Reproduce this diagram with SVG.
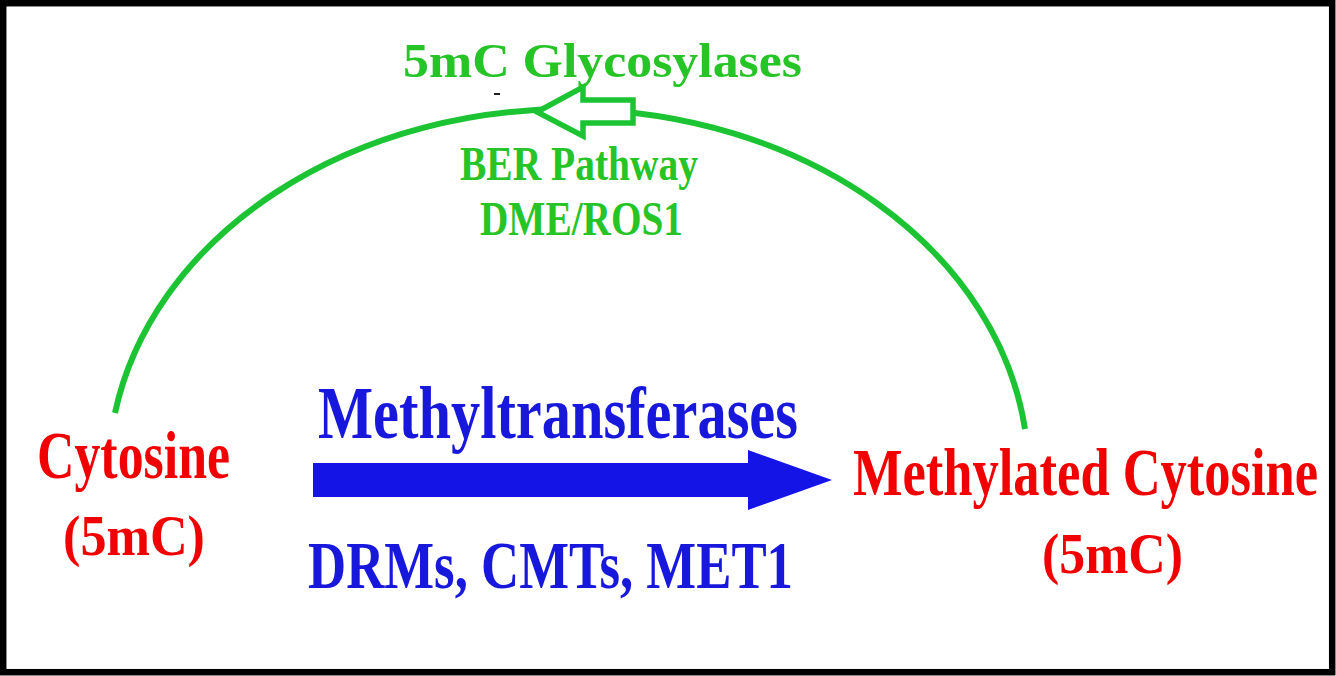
<svg xmlns="http://www.w3.org/2000/svg" width="1336" height="676" viewBox="0 0 1336 676">
<style>
.t{font-family:"Liberation Serif","Times New Roman",serif;font-weight:bold}
.red{fill:#f00000}
.blue{fill:#1818dc}
.green{fill:#26c426}
</style>
<rect x="0" y="0" width="1336" height="676" fill="#ffffff"/>
<rect x="3.2" y="3.2" width="1329" height="669" fill="none" stroke="#000" stroke-width="6.5"/>
<g id="connectors">
  <path id="arc" d="M115,413 A460 365 0 0 1 1025,429" fill="none" stroke="#1cc434" stroke-width="6"/>
  <polygon id="hollow-arrow" points="537,112 583,87 583,100 633,100 633,123 583,123 583,136" fill="#ffffff" stroke="#1cc434" stroke-width="5.5" stroke-linejoin="miter"/>
  <polygon id="blue-arrow" points="313,463 748,463 748,450 832,480 748,510 748,497 313,497" fill="#1414e6"/>
  <rect x="494" y="93" width="6" height="2" fill="#222"/>
</g>
<g id="cytosine">
  <text class="t red" x="37" y="478" font-size="67" textLength="193" lengthAdjust="spacingAndGlyphs">Cytosine</text>
  <text class="t red" x="63" y="555" font-size="58" textLength="142" lengthAdjust="spacingAndGlyphs">(5mC)</text>
</g>
<g id="methylated-cytosine">
  <text class="t red" transform="translate(853,495) scale(0.783,1)" x="0" y="0" font-size="67" textLength="594" lengthAdjust="spacingAndGlyphs">Methylated Cytosine</text>
  <text class="t red" x="1042" y="573" font-size="58" textLength="141" lengthAdjust="spacingAndGlyphs">(5mC)</text>
</g>
<g id="methyltransferases">
  <text class="t blue" x="318" y="438" font-size="75" textLength="480" lengthAdjust="spacingAndGlyphs">Methyltransferases</text>
  <text class="t blue" x="308" y="588" font-size="67" textLength="485" lengthAdjust="spacingAndGlyphs">DRMs, CMTs, MET1</text>
</g>
<g id="glycosylases">
  <text class="t green" x="403" y="77" font-size="49" textLength="399" lengthAdjust="spacingAndGlyphs">5mC Glycosylases</text>
  <text class="t green" x="460" y="180" font-size="48" textLength="238" lengthAdjust="spacingAndGlyphs">BER Pathway</text>
  <text class="t green" x="480" y="235" font-size="48" textLength="203" lengthAdjust="spacingAndGlyphs">DME/ROS1</text>
</g>
</svg>
